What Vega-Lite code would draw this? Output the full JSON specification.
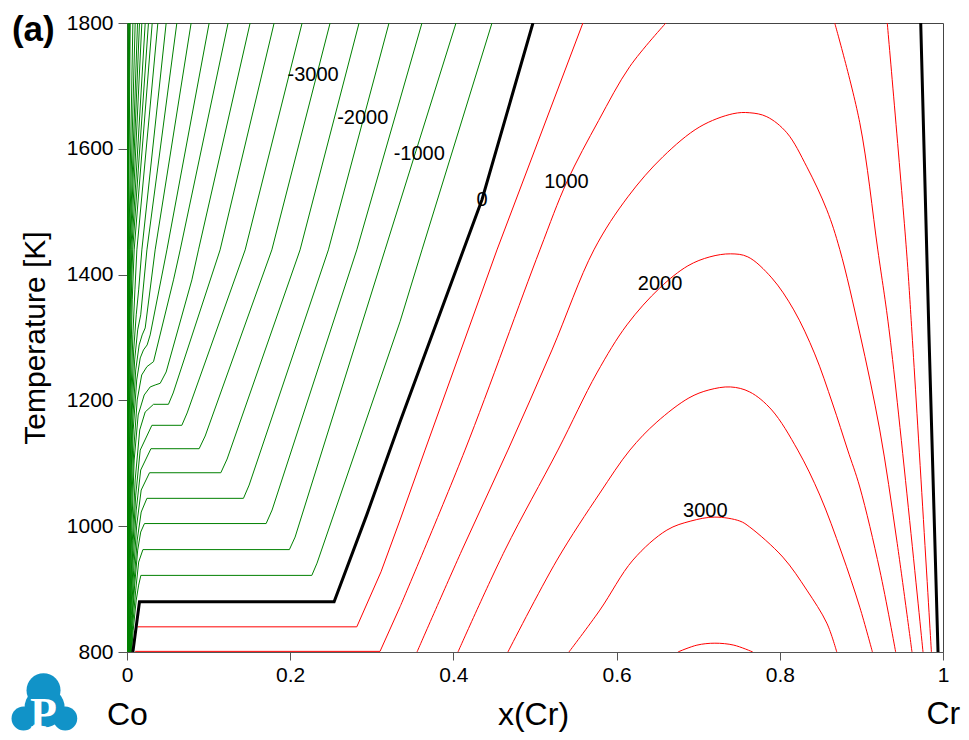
{
"$schema": "https://vega.github.io/schema/vega-lite/v6.json",
"width": 816, "height": 629,
"autosize": "none",
"padding": {"left": 127, "top": 23, "right": 26, "bottom": 88},
"config": {
 "font": "Liberation Sans",
 "view": {"stroke": "#444", "strokeWidth": 1},
 "axis": {"labelFont": "Liberation Sans", "labelFontSize": 21, "labelColor": "#000", "domainColor": "#555", "tickColor": "#555", "grid": false, "labelFlush": false, "titleFont": "Liberation Sans", "titleFontWeight": "normal", "titleColor": "#000"}
},
"datasets": {
 "green": [
  {"s":"g1","x":0.0055,"T":800},{"s":"g1","x":0.0076,"T":834.7},{"s":"g1","x":0.0113,"T":882.5},{"s":"g1","x":0.0143,"T":906.4},{"s":"g1","x":0.0170,"T":921.8},{"s":"g1","x":0.2265,"T":921.8},{"s":"g1","x":0.2329,"T":941.3},{"s":"g1","x":0.3346,"T":1325.2},{"s":"g1","x":0.3615,"T":1439.3},{"s":"g1","x":0.4473,"T":1800},
  {"s":"g2","x":0.0049,"T":800},{"s":"g2","x":0.0070,"T":842.7},{"s":"g2","x":0.0107,"T":898.4},{"s":"g2","x":0.0143,"T":943},{"s":"g2","x":0.0195,"T":962.8},{"s":"g2","x":0.1990,"T":962.8},{"s":"g2","x":0.2060,"T":982.7},{"s":"g2","x":0.3162,"T":1439.3},{"s":"g2","x":0.4032,"T":1800},
  {"s":"g3","x":0.0044,"T":800},{"s":"g3","x":0.0064,"T":850.7},{"s":"g3","x":0.0094,"T":906.4},{"s":"g3","x":0.0131,"T":962},{"s":"g3","x":0.0168,"T":990.7},{"s":"g3","x":0.0214,"T":1004.2},{"s":"g3","x":0.1705,"T":1004.2},{"s":"g3","x":0.1778,"T":1025.7},{"s":"g3","x":0.2816,"T":1439.3},{"s":"g3","x":0.3615,"T":1800},
  {"s":"g4","x":0.0039,"T":800},{"s":"g4","x":0.0060,"T":850.7},{"s":"g4","x":0.0088,"T":914.4},{"s":"g4","x":0.0125,"T":977.9},{"s":"g4","x":0.0174,"T":1022.5},{"s":"g4","x":0.0244,"T":1044.3},{"s":"g4","x":0.1427,"T":1044.3},{"s":"g4","x":0.1497,"T":1065.4},{"s":"g4","x":0.2468,"T":1439.3},{"s":"g4","x":0.3211,"T":1800},
  {"s":"g5","x":0.0034,"T":800},{"s":"g5","x":0.0054,"T":858.6},{"s":"g5","x":0.0082,"T":930.2},{"s":"g5","x":0.0119,"T":1001.8},{"s":"g5","x":0.0174,"T":1057.5},{"s":"g5","x":0.0276,"T":1085},{"s":"g5","x":0.1150,"T":1085},{"s":"g5","x":0.1227,"T":1106.8},{"s":"g5","x":0.2121,"T":1439.3},{"s":"g5","x":0.2844,"T":1800},
  {"s":"g6","x":0.0031,"T":800},{"s":"g6","x":0.0049,"T":866.6},{"s":"g6","x":0.0076,"T":946.1},{"s":"g6","x":0.0113,"T":1025.7},{"s":"g6","x":0.0168,"T":1089.3},{"s":"g6","x":0.0293,"T":1123.2},{"s":"g6","x":0.0884,"T":1123.2},{"s":"g6","x":0.0958,"T":1143.4},{"s":"g6","x":0.1775,"T":1439.3},{"s":"g6","x":0.2489,"T":1800},
  {"s":"g7","x":0.0027,"T":800},{"s":"g7","x":0.0045,"T":874.6},{"s":"g7","x":0.0070,"T":962},{"s":"g7","x":0.0107,"T":1049.5},{"s":"g7","x":0.0162,"T":1121},{"s":"g7","x":0.0305,"T":1160.4},{"s":"g7","x":0.0672,"T":1160.4},{"s":"g7","x":0.0737,"T":1180},{"s":"g7","x":0.1448,"T":1439.3},{"s":"g7","x":0.2146,"T":1800},
  {"s":"g8","x":0.0023,"T":800},{"s":"g8","x":0.0042,"T":882.5},{"s":"g8","x":0.0066,"T":977.9},{"s":"g8","x":0.0100,"T":1073.4},{"s":"g8","x":0.0156,"T":1153},{"s":"g8","x":0.0223,"T":1181.6},{"s":"g8","x":0.0325,"T":1193.8},{"s":"g8","x":0.0508,"T":1193.8},{"s":"g8","x":0.0566,"T":1211.8},{"s":"g8","x":0.1141,"T":1439.3},{"s":"g8","x":0.1803,"T":1800},
  {"s":"g9","x":0.0020,"T":800},{"s":"g9","x":0.0037,"T":882.5},{"s":"g9","x":0.0058,"T":993.8},{"s":"g9","x":0.0088,"T":1105.2},{"s":"g9","x":0.0137,"T":1176.8},{"s":"g9","x":0.0211,"T":1208.6},{"s":"g9","x":0.0284,"T":1221.4},{"s":"g9","x":0.0345,"T":1224.5},{"s":"g9","x":0.0407,"T":1227.2},{"s":"g9","x":0.0480,"T":1245.2},{"s":"g9","x":0.0795,"T":1391.6},{"s":"g9","x":0.0876,"T":1439.3},{"s":"g9","x":0.1509,"T":1800},
  {"s":"g10","x":0.0016,"T":800},{"s":"g10","x":0.0033,"T":898.4},{"s":"g10","x":0.0051,"T":1009.8},{"s":"g10","x":0.0082,"T":1121},{"s":"g10","x":0.0125,"T":1200.7},{"s":"g10","x":0.0180,"T":1240.4},{"s":"g10","x":0.0244,"T":1253.6},{"s":"g10","x":0.0325,"T":1261.6},{"s":"g10","x":0.0570,"T":1391.6},{"s":"g10","x":0.0652,"T":1439.3},{"s":"g10","x":0.1239,"T":1800},
  {"s":"g11","x":0.0013,"T":800},{"s":"g11","x":0.0029,"T":914.4},{"s":"g11","x":0.0049,"T":1041.6},{"s":"g11","x":0.0076,"T":1153},{"s":"g11","x":0.0119,"T":1232.5},{"s":"g11","x":0.0162,"T":1267.5},{"s":"g11","x":0.0202,"T":1280.2},{"s":"g11","x":0.0247,"T":1288.2},{"s":"g11","x":0.0284,"T":1304.1},{"s":"g11","x":0.0489,"T":1439.3},{"s":"g11","x":0.1007,"T":1800},
  {"s":"g12","x":0.0011,"T":800},{"s":"g12","x":0.0027,"T":930.2},{"s":"g12","x":0.0045,"T":1057.5},{"s":"g12","x":0.0070,"T":1168.8},{"s":"g12","x":0.0107,"T":1248.4},{"s":"g12","x":0.0149,"T":1288.2},{"s":"g12","x":0.0186,"T":1304.1},{"s":"g12","x":0.0223,"T":1315.2},{"s":"g12","x":0.0345,"T":1439.3},{"s":"g12","x":0.0786,"T":1800},
  {"s":"g13","x":0.0010,"T":800},{"s":"g13","x":0.0024,"T":946.1},{"s":"g13","x":0.0042,"T":1073.4},{"s":"g13","x":0.0064,"T":1184.8},{"s":"g13","x":0.0094,"T":1264.3},{"s":"g13","x":0.0131,"T":1312.1},{"s":"g13","x":0.0168,"T":1336},{"s":"g13","x":0.0244,"T":1439.3},{"s":"g13","x":0.0611,"T":1800},
  {"s":"g14","x":0.0009,"T":800},{"s":"g14","x":0.0022,"T":962},{"s":"g14","x":0.0038,"T":1089.3},{"s":"g14","x":0.0058,"T":1200.7},{"s":"g14","x":0.0082,"T":1280.2},{"s":"g14","x":0.0113,"T":1336},{"s":"g14","x":0.0143,"T":1375.7},{"s":"g14","x":0.0182,"T":1439.3},{"s":"g14","x":0.0480,"T":1800},
  {"s":"g15","x":0.0007,"T":800},{"s":"g15","x":0.0020,"T":977.9},{"s":"g15","x":0.0034,"T":1105.2},{"s":"g15","x":0.0051,"T":1216.6},{"s":"g15","x":0.0072,"T":1304.1},{"s":"g15","x":0.0097,"T":1375.7},{"s":"g15","x":0.0121,"T":1439.3},{"s":"g15","x":0.0378,"T":1800},
  {"s":"g16","x":0.0006,"T":800},{"s":"g16","x":0.0017,"T":993.8},{"s":"g16","x":0.0031,"T":1137},{"s":"g16","x":0.0045,"T":1248.4},{"s":"g16","x":0.0064,"T":1359.8},{"s":"g16","x":0.0088,"T":1439.3},{"s":"g16","x":0.0309,"T":1800},
  {"s":"g17","x":0.0006,"T":800},{"s":"g17","x":0.0015,"T":1009.8},{"s":"g17","x":0.0027,"T":1168.8},{"s":"g17","x":0.0042,"T":1296.1},{"s":"g17","x":0.0058,"T":1391.6},{"s":"g17","x":0.0070,"T":1439.3},{"s":"g17","x":0.0263,"T":1800},
  {"s":"g18","x":0.0005,"T":800},{"s":"g18","x":0.0013,"T":1025.7},{"s":"g18","x":0.0024,"T":1200.7},{"s":"g18","x":0.0037,"T":1328},{"s":"g18","x":0.0058,"T":1439.3},{"s":"g18","x":0.0223,"T":1800},
  {"s":"g19","x":0.0004,"T":800},{"s":"g19","x":0.0012,"T":1041.6},{"s":"g19","x":0.0022,"T":1232.5},{"s":"g19","x":0.0034,"T":1359.8},{"s":"g19","x":0.0048,"T":1439.3},{"s":"g19","x":0.0182,"T":1800},
  {"s":"g20","x":0.0004,"T":800},{"s":"g20","x":0.0011,"T":1057.5},{"s":"g20","x":0.0020,"T":1264.3},{"s":"g20","x":0.0039,"T":1439.3},{"s":"g20","x":0.0153,"T":1800},
  {"s":"g21","x":0.0004,"T":800},{"s":"g21","x":0.0010,"T":1073.4},{"s":"g21","x":0.0018,"T":1280.2},{"s":"g21","x":0.0033,"T":1439.3},{"s":"g21","x":0.0129,"T":1800},
  {"s":"g22","x":0.0003,"T":800},{"s":"g22","x":0.0009,"T":1089.3},{"s":"g22","x":0.0016,"T":1296.1},{"s":"g22","x":0.0027,"T":1439.3},{"s":"g22","x":0.0100,"T":1800},
  {"s":"g23","x":0.0003,"T":800},{"s":"g23","x":0.0007,"T":1105.2},{"s":"g23","x":0.0015,"T":1312.1},{"s":"g23","x":0.0022,"T":1439.3},{"s":"g23","x":0.0072,"T":1800},
  {"s":"g24","x":0.0002,"T":800},{"s":"g24","x":0.0006,"T":1121},{"s":"g24","x":0.0012,"T":1328},{"s":"g24","x":0.0017,"T":1439.3},{"s":"g24","x":0.0039,"T":1800},
  {"s":"g25","x":0.0002,"T":800},{"s":"g25","x":0.0005,"T":1200},{"s":"g25","x":0.0010,"T":1440},{"s":"g25","x":0.0033,"T":1800},
  {"s":"g26","x":0.0001,"T":800},{"s":"g26","x":0.0004,"T":1200},{"s":"g26","x":0.0008,"T":1440},{"s":"g26","x":0.0027,"T":1800},
  {"s":"g27","x":0.0001,"T":800},{"s":"g27","x":0.0003,"T":1200},{"s":"g27","x":0.0006,"T":1440},{"s":"g27","x":0.0020,"T":1800},
  {"s":"g28","x":0.0001,"T":800},{"s":"g28","x":0.0002,"T":1200},{"s":"g28","x":0.0004,"T":1440},{"s":"g28","x":0.0012,"T":1800}
 ],
 "redL": [
  {"s":"r500","x":0.0129,"T":840},{"s":"r500","x":0.2816,"T":840},{"s":"r500","x":0.3113,"T":927.5},{"s":"r500","x":0.3346,"T":1009.8},{"s":"r500","x":0.3652,"T":1121},{"s":"r500","x":0.4534,"T":1439.3},{"s":"r500","x":0.5587,"T":1800},
  {"s":"r1000","x":0.0100,"T":801},{"s":"r1000","x":0.3101,"T":801},{"s":"r1000","x":0.3346,"T":871.8}
 ],
 "red": [
  {"s":"r1000","x":0.3346,"T":871.8},{"s":"r1000","x":0.4142,"T":1121},{"s":"r1000","x":0.5060,"T":1439.3},{"s":"r1000","x":0.5391,"T":1547.5},{"s":"r1000","x":0.5780,"T":1645},{"s":"r1000","x":0.6163,"T":1731},{"s":"r1000","x":0.6604,"T":1800},
  {"s":"r500R","x":0.9317,"T":1800},{"s":"r500R","x":0.9552,"T":1439.3},{"s":"r500R","x":0.9620,"T":1307},{"s":"r500R","x":0.9858,"T":800},
  {"s":"r1000R","x":0.8673,"T":1800},{"s":"r1000R","x":0.8980,"T":1641.4},{"s":"r1000R","x":0.9201,"T":1439.3},{"s":"r1000R","x":0.9347,"T":1304},{"s":"r1000R","x":0.9755,"T":800},
  {"s":"r1500","x":0.3554,"T":800},{"s":"r1500","x":0.4105,"T":962},{"s":"r1500","x":0.4668,"T":1121},{"s":"r1500","x":0.5208,"T":1280.2},{"s":"r1500","x":0.5722,"T":1439.3},{"s":"r1500","x":0.6138,"T":1523.6},{"s":"r1500","x":0.6567,"T":1587.3},{"s":"r1500","x":0.7020,"T":1635},{"s":"r1500","x":0.7424,"T":1655.7},{"s":"r1500","x":0.7632,"T":1657.3},{"s":"r1500","x":0.7841,"T":1651},{"s":"r1500","x":0.8086,"T":1625.5},{"s":"r1500","x":0.8331,"T":1571.4},{"s":"r1500","x":0.8576,"T":1503},{"s":"r1500","x":0.8735,"T":1440},{"s":"r1500","x":0.8980,"T":1307},{"s":"r1500","x":0.9225,"T":1153},{"s":"r1500","x":0.9433,"T":978},{"s":"r1500","x":0.9620,"T":800},
  {"s":"r2000","x":0.4056,"T":800},{"s":"r2000","x":0.4632,"T":962},{"s":"r2000","x":0.5281,"T":1121},{"s":"r2000","x":0.5758,"T":1243.6},{"s":"r2000","x":0.6126,"T":1320},{"s":"r2000","x":0.6530,"T":1378.9},{"s":"r2000","x":0.6873,"T":1413.9},{"s":"r2000","x":0.7143,"T":1428.2},{"s":"r2000","x":0.7396,"T":1433},{"s":"r2000","x":0.7608,"T":1428.2},{"s":"r2000","x":0.7901,"T":1394.8},{"s":"r2000","x":0.8171,"T":1343.9},{"s":"r2000","x":0.8428,"T":1273.9},{"s":"r2000","x":0.8648,"T":1194.3},{"s":"r2000","x":0.8832,"T":1121},{"s":"r2000","x":0.8980,"T":1062.3},{"s":"r2000","x":0.9225,"T":930.2},{"s":"r2000","x":0.9420,"T":800},
  {"s":"r2500","x":0.4668,"T":800},{"s":"r2500","x":0.5269,"T":946.1},{"s":"r2500","x":0.5795,"T":1052.7},{"s":"r2500","x":0.6163,"T":1121},{"s":"r2500","x":0.6494,"T":1165.7},{"s":"r2500","x":0.6886,"T":1203.9},{"s":"r2500","x":0.7131,"T":1216.6},{"s":"r2500","x":0.7396,"T":1221.4},{"s":"r2500","x":0.7632,"T":1213.4},{"s":"r2500","x":0.7901,"T":1184.8},{"s":"r2500","x":0.8220,"T":1121},{"s":"r2500","x":0.8490,"T":1049.5},{"s":"r2500","x":0.8759,"T":957.3},{"s":"r2500","x":0.8980,"T":871.3},{"s":"r2500","x":0.9135,"T":800},
  {"s":"r3000","x":0.5416,"T":800},{"s":"r3000","x":0.5795,"T":866.6},{"s":"r3000","x":0.6200,"T":946.1},{"s":"r3000","x":0.6616,"T":993.8},{"s":"r3000","x":0.6910,"T":1008.2},{"s":"r3000","x":0.7204,"T":1014.5},{"s":"r3000","x":0.7510,"T":1008.2},{"s":"r3000","x":0.7632,"T":998.6},{"s":"r3000","x":0.8037,"T":950.9},{"s":"r3000","x":0.8331,"T":898.4},{"s":"r3000","x":0.8576,"T":845.9},{"s":"r3000","x":0.8698,"T":800},
  {"s":"r3500","x":0.6751,"T":800},{"s":"r3500","x":0.6984,"T":810.9},{"s":"r3500","x":0.7204,"T":814},{"s":"r3500","x":0.7437,"T":810.9},{"s":"r3500","x":0.7669,"T":800}
 ],
 "black": [
  {"s":"z","x":0.0072,"T":800},{"s":"z","x":0.0153,"T":880},{"s":"z","x":0.2538,"T":880},{"s":"z","x":0.2938,"T":1018},{"s":"z","x":0.3346,"T":1166},{"s":"z","x":0.4350,"T":1519},{"s":"z","x":0.4975,"T":1800},
  {"s":"zR","x":0.9727,"T":1800},{"s":"zR","x":0.9828,"T":1304},{"s":"zR","x":0.9939,"T":800}
 ],
 "labels": [
  {"t":"-3000","x":0.228,"T":1718},{"t":"-2000","x":0.2889,"T":1649},{"t":"-1000","x":0.3581,"T":1592},{"t":"0","x":0.435,"T":1519},{"t":"1000","x":0.5385,"T":1548},{"t":"2000","x":0.6533,"T":1385},{"t":"3000","x":0.7087,"T":1024}
 ],
 "ends": [
  {"t":"Co","x":-0.0246,"T":684},{"t":"x(Cr)","x":0.4546,"T":684},{"t":"Cr","x":0.9797,"T":686}
 ],
 "tag": [{"t":"(a)","x":-0.141,"T":1789}],
 "logo": [
  {"p":"t","x":-0.1023,"T":739.3},{"p":"s","x":-0.1268,"T":694.3},{"p":"s","x":-0.0757,"T":694.3},{"p":"b","x":-0.1010,"T":712}
 ],
 "logoP": [{"t":"P","x":-0.1023,"T":679}]
},
"encoding": {
 "x": {"field": "x", "type": "quantitative", "scale": {"domain": [0, 1], "nice": false, "zero": false}, "axis": {"values": [0, 0.2, 0.4, 0.6, 0.8, 1], "format": "~g", "tickSize": 8, "labelPadding": 4, "title": null}},
 "y": {"field": "T", "type": "quantitative", "scale": {"domain": [800, 1800], "nice": false, "zero": false}, "axis": {"values": [800, 1000, 1200, 1400, 1600, 1800], "format": "d", "tickSize": 9, "labelPadding": 5, "title": "Temperature [K]", "titleFontSize": 30, "titlePadding": 16}}
},
"layer": [
 {"data": {"name": "green"}, "mark": {"type": "line", "interpolate": "linear", "clip": true, "color": "#008000", "strokeWidth": 1}, "encoding": {"detail": {"field": "s", "type": "nominal"}, "order": {"value": null}}},
 {"data": {"name": "redL"}, "mark": {"type": "line", "interpolate": "linear", "clip": true, "color": "#ff0000", "strokeWidth": 1}, "encoding": {"detail": {"field": "s", "type": "nominal"}, "order": {"value": null}}},
 {"data": {"name": "red"}, "mark": {"type": "line", "interpolate": "catmull-rom", "clip": true, "color": "#ff0000", "strokeWidth": 1}, "encoding": {"detail": {"field": "s", "type": "nominal"}, "order": {"value": null}}},
 {"data": {"name": "black"}, "mark": {"type": "line", "interpolate": "linear", "clip": true, "color": "#000000", "strokeWidth": 3}, "encoding": {"detail": {"field": "s", "type": "nominal"}, "order": {"value": null}}},
 {"data": {"name": "labels"}, "mark": {"type": "text", "fontSize": 20, "align": "center", "baseline": "middle", "color": "#000"}, "encoding": {"text": {"field": "t", "type": "nominal"}}},
 {"data": {"name": "ends"}, "mark": {"type": "text", "fontSize": 32, "align": "left", "baseline": "alphabetic", "color": "#000"}, "encoding": {"text": {"field": "t", "type": "nominal"}}},
 {"data": {"name": "tag"}, "mark": {"type": "text", "fontSize": 35, "fontWeight": "bold", "align": "left", "baseline": "middle", "color": "#000"}, "encoding": {"text": {"field": "t", "type": "nominal"}}},
 {"data": {"name": "logo"}, "transform": [{"filter": "datum.p == 'b'"}], "mark": {"type": "point", "filled": true, "shape": "circle", "opacity": 1, "color": "#1193c8", "size": 1600}, "encoding": {}},
 {"data": {"name": "logo"}, "transform": [{"filter": "datum.p == 't'"}], "mark": {"type": "point", "filled": true, "shape": "circle", "opacity": 1, "color": "#1193c8", "size": 1156}, "encoding": {}},
 {"data": {"name": "logo"}, "transform": [{"filter": "datum.p == 's'"}], "mark": {"type": "point", "filled": true, "shape": "circle", "opacity": 1, "color": "#1193c8", "size": 576}, "encoding": {}},
 {"data": {"name": "logoP"}, "mark": {"type": "text", "font": "Liberation Serif", "fontSize": 44, "fontWeight": "bold", "align": "center", "baseline": "alphabetic", "color": "#ffffff"}, "encoding": {"text": {"field": "t", "type": "nominal"}}}
]
}
